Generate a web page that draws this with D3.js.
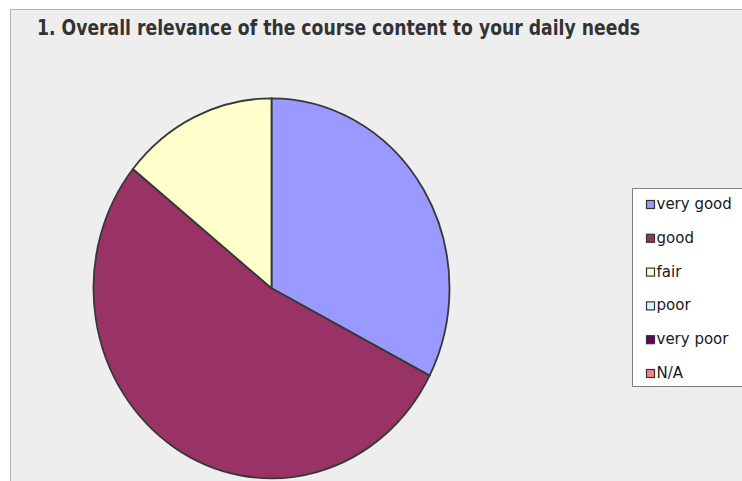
<!DOCTYPE html>
<html>
<head>
<meta charset="utf-8">
<script src="https://cdn.jsdelivr.net/npm/d3@7"></script>
<style>
  html, body { margin: 0; padding: 0; background: #ffffff; }
  svg { display: block; }
</style>
</head>
<body>
<div id="chart"></div>
<script>
// chart data
const title = '1. Overall relevance of the course content to your daily needs';
const categories = ['very good', 'good', 'fair', 'poor', 'very poor', 'N/A'];
const values = [32.6, 53.2, 14.2, 0, 0, 0];
const colors = ['#9999ff', '#993366', '#ffffcc', '#ccffff', '#660066', '#ff8080'];

const width = 742;
const height = 481;

const svg = d3.select('#chart')
    .append('svg')
    .attr('width', width)
    .attr('height', height);

// grey panel, only its left and top edges show
svg.append('rect')
    .attr('x', 10.5)
    .attr('y', 9.5)
    .attr('width', width)
    .attr('height', height)
    .attr('fill', '#eeeeee')
    .attr('stroke', '#b4b4b4')
    .attr('stroke-width', 1);

svg.append('text')
    .attr('x', 37)
    .attr('y', 35)
    .attr('textLength', 603)
    .attr('lengthAdjust', 'spacingAndGlyphs')
    .style('font-family', '"DejaVu Sans Condensed", "DejaVu Sans", sans-serif')
    .style('font-weight', 'bold')
    .style('font-size', '22px')
    .attr('fill', '#333333')
    .text(title);

// pie is drawn a bit taller than wide, like the original
const cx = 271.5, cy = 288.3;
const ry = 190, rx = 178;

const pie = d3.pie().sort(null).value(d => d);
const arc = d3.arc().innerRadius(0).outerRadius(ry);
const color = d3.scaleOrdinal().domain(categories).range(colors);

const g = svg.append('g')
    .attr('transform', `translate(${cx},${cy}) scale(${rx / ry},1)`);

g.selectAll('path')
    .data(pie(values).filter(d => d.value > 0))
    .join('path')
    .attr('d', arc)
    .attr('fill', d => color(categories[d.index]))
    .attr('stroke', '#383838')
    .attr('stroke-width', 1.8)
    .attr('vector-effect', 'non-scaling-stroke');

// legend on the right, cut by the page edge
const legend = svg.append('g').attr('class', 'legend');

legend.append('rect')
    .attr('x', 632.5)
    .attr('y', 188.5)
    .attr('width', 140)
    .attr('height', 198)
    .attr('fill', '#ffffff')
    .attr('stroke', '#808080');

const y = d3.scalePoint().domain(categories).range([209, 378]);

const items = legend.selectAll('.legend-item')
    .data(categories)
    .join('g')
    .attr('class', 'legend-item')
    .attr('transform', d => `translate(0,${y(d)})`);

items.append('rect')
    .attr('x', 646.5)
    .attr('y', -8.5)
    .attr('width', 8)
    .attr('height', 8)
    .attr('fill', d => color(d))
    .attr('stroke', '#333333')
    .attr('stroke-width', 1.2);

items.append('text')
    .attr('x', 656.5)
    .attr('y', 0)
    .style('font-family', '"DejaVu Sans", sans-serif')
    .style('font-size', '15px')
    .attr('fill', '#1a1a1a')
    .text(d => d);
</script>
</body>
</html>
